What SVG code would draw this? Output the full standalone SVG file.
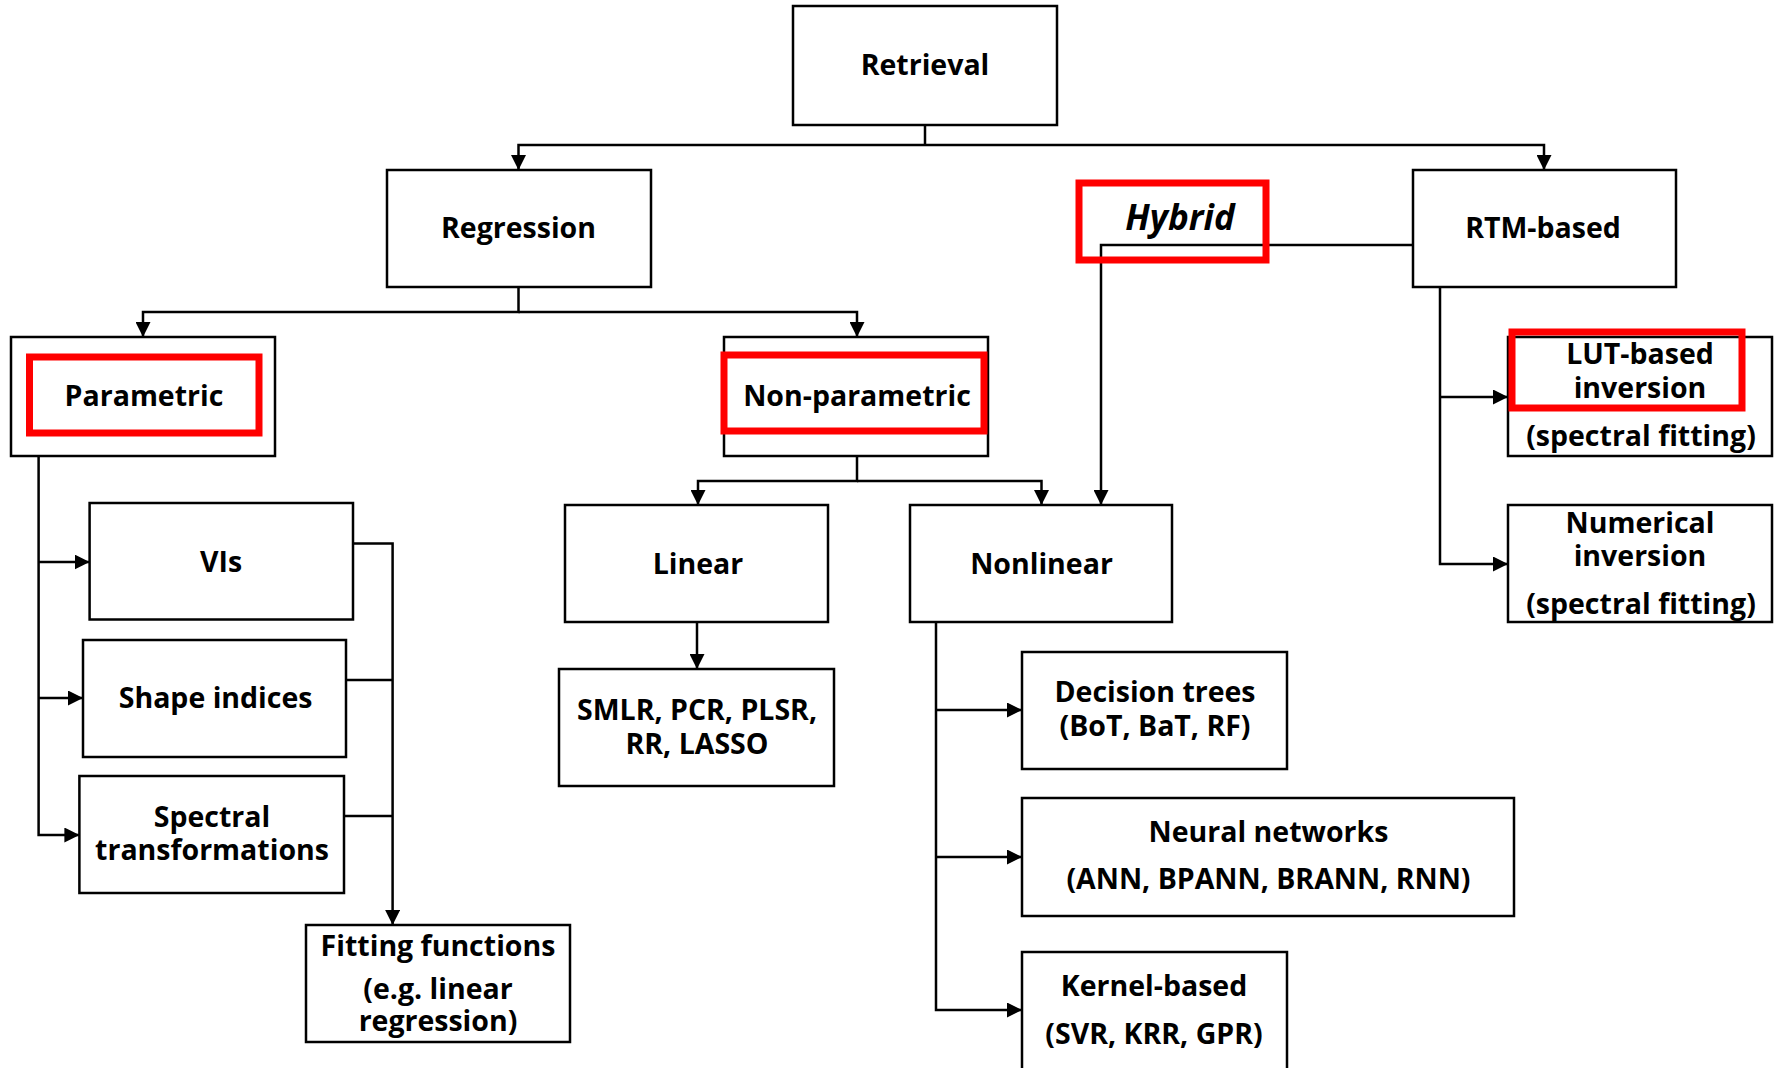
<svg xmlns="http://www.w3.org/2000/svg" width="1779" height="1068" viewBox="0 0 1779 1068">
<style>
.box{fill:#fff;stroke:#000;stroke-width:2.5}
.red{fill:none;stroke:#ff0000;stroke-width:7}
.t{font-family:"Open Sans","Liberation Sans",sans-serif;font-weight:bold;font-size:28.5px;fill:#000;text-anchor:middle}
.it{font-style:italic;font-size:35px}
.c{fill:none;stroke:#000;stroke-width:2.5}
</style>
<defs>
<marker id="ah" viewBox="0 0 10 10" refX="10" refY="5" markerUnits="userSpaceOnUse" markerWidth="15" markerHeight="15" orient="auto">
<path d="M0,0 L10,5 L0,10 z" fill="#000"/>
</marker>
</defs>
<rect width="1779" height="1068" fill="#fff"/>
<g id="connectors">
<path class="c" d="M925,125 V145"/>
<path class="c" d="M925,145 H518.5 V170" marker-end="url(#ah)"/>
<path class="c" d="M925,145 H1544 V170" marker-end="url(#ah)"/>
<path class="c" d="M518.5,287 V312 H143 V337" marker-end="url(#ah)"/>
<path class="c" d="M518.5,312 H857 V337" marker-end="url(#ah)"/>
<path class="c" d="M1413,245 H1101 V505" marker-end="url(#ah)"/>
<path class="c" d="M38.6,456 V835 H79.4" marker-end="url(#ah)"/>
<path class="c" d="M38.6,562 H89.6" marker-end="url(#ah)"/>
<path class="c" d="M38.6,698 H83" marker-end="url(#ah)"/>
<path class="c" d="M353,543.5 H392.6 V925" marker-end="url(#ah)"/>
<path class="c" d="M346,680 H392.6"/>
<path class="c" d="M344,816 H392.6"/>
<path class="c" d="M857,456 V481 H698 V505" marker-end="url(#ah)"/>
<path class="c" d="M857,481 H1041.5 V505" marker-end="url(#ah)"/>
<path class="c" d="M697,622 V669" marker-end="url(#ah)"/>
<path class="c" d="M936,622 V1010 H1022" marker-end="url(#ah)"/>
<path class="c" d="M936,710 H1022" marker-end="url(#ah)"/>
<path class="c" d="M936,857 H1022" marker-end="url(#ah)"/>
<path class="c" d="M1440,287 V564 H1508" marker-end="url(#ah)"/>
<path class="c" d="M1440,397 H1508" marker-end="url(#ah)"/>
</g>
<g id="retrieval"><rect class="box" x="793" y="6" width="264" height="119"/><text class="t" x="925" y="75">Retrieval</text></g>
<g id="regression"><rect class="box" x="387" y="170" width="264" height="117"/><text class="t" x="518.5" y="238">Regression</text></g>
<g id="hybrid"><rect class="red" x="1079" y="183" width="187" height="77"/><text class="t it" x="1180" y="230">Hybrid</text></g>
<g id="rtm"><rect class="box" x="1413" y="170" width="263" height="117"/><text class="t" x="1543" y="238">RTM-based</text></g>
<g id="parametric"><rect class="box" x="11" y="337" width="264" height="119"/><rect class="red" x="29.5" y="357" width="229.5" height="76"/><text class="t" x="144" y="406">Parametric</text></g>
<g id="nonparametric"><rect class="box" x="724" y="337" width="264" height="119"/><rect class="red" x="724" y="355" width="260" height="76"/><text class="t" x="857" y="406">Non-parametric</text></g>
<g id="vis"><rect class="box" x="89.6" y="503" width="263.4" height="116.5"/><text class="t" x="221" y="572">VIs</text></g>
<g id="shape"><rect class="box" x="83" y="640" width="263" height="117"/><text class="t" x="215.6" y="708">Shape indices</text></g>
<g id="spectral"><rect class="box" x="79.4" y="776" width="264.6" height="117"/><text class="t" x="212" y="827">Spectral</text><text class="t" x="212" y="860">transformations</text></g>
<g id="fitting"><rect class="box" x="306" y="925" width="264" height="117"/><text class="t" x="438" y="956">Fitting functions</text><text class="t" x="438" y="999">(e.g. linear</text><text class="t" x="438" y="1031">regression)</text></g>
<g id="linear"><rect class="box" x="565" y="505" width="263" height="117"/><text class="t" x="698" y="574">Linear</text></g>
<g id="nonlinear"><rect class="box" x="910" y="505" width="262" height="117"/><text class="t" x="1041.5" y="574">Nonlinear</text></g>
<g id="smlr"><rect class="box" x="559" y="669" width="275" height="117"/><text class="t" x="697" y="720">SMLR, PCR, PLSR,</text><text class="t" x="697" y="754">RR, LASSO</text></g>
<g id="decision"><rect class="box" x="1022" y="652" width="265" height="117"/><text class="t" x="1155" y="702">Decision trees</text><text class="t" x="1155" y="736">(BoT, BaT, RF)</text></g>
<g id="neural"><rect class="box" x="1022" y="798" width="492" height="118"/><text class="t" x="1268.5" y="842">Neural networks</text><text class="t" x="1268.5" y="889">(ANN, BPANN, BRANN, RNN)</text></g>
<g id="kernel"><rect class="box" x="1022" y="952" width="265" height="130"/><text class="t" x="1154" y="996">Kernel-based</text><text class="t" x="1154" y="1044">(SVR, KRR, GPR)</text></g>
<g id="lut"><rect class="box" x="1508" y="337" width="264" height="119"/><rect class="red" x="1512" y="332" width="230" height="76"/><text class="t" x="1640" y="364">LUT-based</text><text class="t" x="1640" y="398">inversion</text><text class="t" x="1641" y="446">(spectral fitting)</text></g>
<g id="numerical"><rect class="box" x="1508" y="505" width="264" height="117"/><text class="t" x="1640" y="533">Numerical</text><text class="t" x="1640" y="566">inversion</text><text class="t" x="1641" y="614">(spectral fitting)</text></g>
</svg>
